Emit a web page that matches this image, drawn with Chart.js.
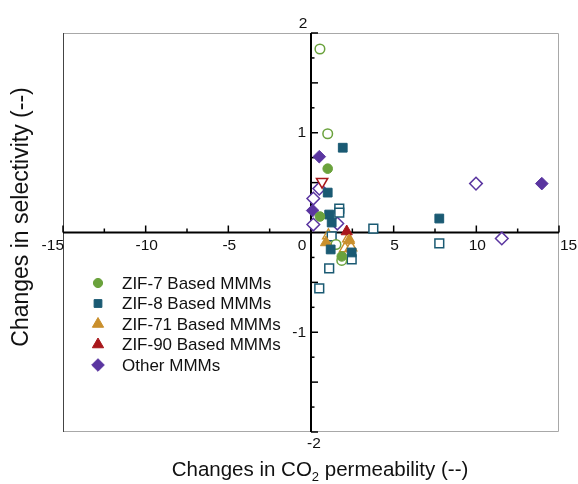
<!DOCTYPE html>
<html><head><meta charset="utf-8">
<script src="https://cdn.jsdelivr.net/npm/chart.js@4.4.1/dist/chart.umd.min.js"></script>
<style>html,body{margin:0;padding:0;background:#fff;}#wrap{width:578px;height:484px;}</style>
</head><body><div id="wrap"><canvas id="c" width="578" height="484"></canvas></div>
<script>
// ---- data (x: change in CO2 permeability, y: change in selectivity) ----
const seriesNames = ['ZIF-7 Based MMMs','ZIF-8 Based MMMs','ZIF-71 Based MMMs','ZIF-90 Based MMMs','Other MMMs'];
const zif7Filled = [[1.01,0.64],[0.54,0.16],[1.86,-0.24]];
const zif7Open   = [[0.54,1.84],[1.01,0.99],[1.51,-0.12],[1.86,-0.28]];
const zif8Filled = [[1.92,0.85],[1.01,0.40],[1.10,0.18],[1.25,0.10],[1.19,-0.17],[7.76,0.14],[2.46,-0.20]];
const zif8Open   = [[1.71,0.24],[1.71,0.20],[1.25,-0.04],[1.10,-0.36],[0.50,-0.56],[3.77,0.04],[7.76,-0.11],[2.46,-0.27]];
const zif71Filled = [[0.91,-0.10],[2.30,-0.08]];
const zif71Open   = [[1.05,-0.03],[1.35,-0.10],[2.06,-0.16],[2.42,-0.15],[2.26,-0.06]];
const zif90Filled = [[2.16,0.01]];
const zif90Open   = [[0.67,0.51]];
const otherFilled = [[0.50,0.76],[0.10,0.22],[13.96,0.49]];
const otherOpen   = [[0.50,0.44],[0.14,0.34],[0.14,0.08],[1.59,0.09],[9.98,0.49],[11.54,-0.06]];
const xTickValues = [-15,-10,-5,5,10,15];
const xTickLabels = ['-15','-10','-5','5','10','15'];
const yTickValues = [2,1,-1,-2];
const yTickLabels = ['2','1','-1','-2'];
const xTitle = ['Changes in CO', '2', ' permeability (--)'];
const yTitle = 'Changes in selectivity (--)';

const colors = ['#6aa23c','#1a5a73','#c98f2c','#a8171b','#5a35a0'];
const styles = ['circle','rect','triangle','triangle','rectRot'];
const radii  = [4.8, 6.2, 6.5, 6.5, 6.3];

function pts(a){ return a.map(p=>({x:p[0],y:p[1]})); }
const filledSets = [zif7Filled,zif8Filled,zif71Filled,zif90Filled,otherFilled];
const openSets = [zif7Open,zif8Open,zif71Open,zif90Open,otherOpen];
const datasets = [];
for (let i=0;i<5;i++){
  datasets.push({label:seriesNames[i]+' open', data:pts(openSets[i]), pointStyle:styles[i], pointRadius:radii[i],
    pointRotation: i===3?180:0, backgroundColor:'#ffffff', borderColor:colors[i], pointBorderWidth:1.5, showLine:false, order:2});
}
for (let i=0;i<5;i++){
  datasets.push({label:seriesNames[i], data:pts(filledSets[i]), pointStyle:styles[i], pointRadius:radii[i],
    backgroundColor:colors[i], borderColor:colors[i], pointBorderWidth:1, showLine:false, order:1});
}

const FONT = 'Arial, "Liberation Sans", sans-serif';
const axesPlugin = {
  id:'crossAxes',
  beforeDatasetsDraw(chart){
    const {ctx, chartArea:a, scales:{x,y}} = chart;
    ctx.save();
    // frame
    ctx.lineWidth = 1;
    ctx.strokeStyle = '#a8a8a8';
    ctx.beginPath();
    ctx.moveTo(a.left, a.top+0.5); ctx.lineTo(a.right-0.5, a.top+0.5);
    ctx.lineTo(a.right-0.5, a.bottom-0.5); ctx.lineTo(a.left, a.bottom-0.5);
    ctx.stroke();
    ctx.strokeStyle = '#444';
    ctx.beginPath(); ctx.moveTo(a.left+0.5, a.top); ctx.lineTo(a.left+0.5, a.bottom); ctx.stroke();
    const x0 = x.getPixelForValue(0), y0 = y.getPixelForValue(0);
    // axes lines
    ctx.strokeStyle = '#000'; ctx.lineWidth = 2;
    ctx.beginPath(); ctx.moveTo(a.left, y0); ctx.lineTo(a.right, y0); ctx.stroke();
    ctx.beginPath(); ctx.moveTo(x0, a.top); ctx.lineTo(x0, a.bottom); ctx.stroke();
    // x ticks (upward)
    ctx.lineWidth = 1.5;
    for (let v=-15; v<=15; v+=2.5){
      if (v===0) continue;
      const px = x.getPixelForValue(v);
      const len = (v%5===0)?7:4;
      ctx.beginPath(); ctx.moveTo(px, y0); ctx.lineTo(px, y0-len); ctx.stroke();
    }
    // y ticks (rightward)
    for (let v=-2; v<=2; v+=0.25){
      if (Math.abs(v)<1e-9) continue;
      const py = y.getPixelForValue(v);
      const len = (Math.abs(v*2-Math.round(v*2))<1e-9)?7:3.5;
      ctx.beginPath(); ctx.moveTo(x0, py); ctx.lineTo(x0+len, py); ctx.stroke();
    }
    // tick labels
    ctx.fillStyle = '#111';
    ctx.font = '15.5px ' + FONT;
    ctx.textBaseline = 'middle';
    xTickValues.forEach((v,i)=>{
      const px = x.getPixelForValue(v);
      if (v===xTickValues[0]) { ctx.textAlign='right'; ctx.fillText(xTickLabels[i], px+1, y0+13); }
      else if (v===xTickValues[xTickValues.length-1]) { ctx.textAlign='left'; ctx.fillText(xTickLabels[i], px+1, y0+13); }
      else { ctx.textAlign='center'; ctx.fillText(xTickLabels[i], px+1, y0+13); }
    });
    ctx.textAlign='center';
    ctx.fillText('0', x0-9, y0+13);
    yTickValues.forEach((v,i)=>{
      const py = y.getPixelForValue(v);
      if (v===2) { ctx.textAlign='center'; ctx.fillText(yTickLabels[i], x0-8, a.top-9); }
      else if (v===-2) { ctx.textAlign='center'; ctx.fillText(yTickLabels[i], x0+3, a.bottom+12); }
      else { ctx.textAlign='right'; ctx.fillText(yTickLabels[i], x0-5, py); }
    });
    ctx.restore();
  },
  afterDatasetsDraw(chart){
    const {ctx} = chart;
    ctx.save();
    // legend
    ctx.font = '17px ' + FONT;
    ctx.textBaseline='middle'; ctx.textAlign='left'; ctx.fillStyle='#111';
    const legR = [4.6, 5.5, 6.5, 6.5, 6.3];
    for (let i=0;i<5;i++){
      const cy = 283 + i*20.5;
      ctx.fillStyle = colors[i]; ctx.strokeStyle = colors[i]; ctx.lineWidth = 1;
      Chart.helpers.drawPoint(ctx, {pointStyle:styles[i], radius:legR[i], rotation:0, borderWidth:1}, 98, cy);
      ctx.fillStyle='#111';
      ctx.fillText(seriesNames[i], 122, cy+1);
    }
    // x title
    ctx.font = '20.5px ' + FONT;
    const w1 = ctx.measureText(xTitle[0]).width;
    ctx.font = '13px ' + FONT;
    const w2 = ctx.measureText(xTitle[1]).width;
    ctx.font = '20.5px ' + FONT;
    const w3 = ctx.measureText(xTitle[2]).width;
    let sx = 320 - (w1+w2+w3)/2;
    ctx.textBaseline='alphabetic';
    ctx.fillText(xTitle[0], sx, 476);
    ctx.font = '13px ' + FONT; ctx.fillText(xTitle[1], sx+w1, 481);
    ctx.font = '20.5px ' + FONT; ctx.fillText(xTitle[2], sx+w1+w2, 476);
    // y title
    ctx.translate(22, 217); ctx.rotate(-Math.PI/2);
    ctx.font = '23px ' + FONT; ctx.textAlign='center'; ctx.textBaseline='middle';
    ctx.fillText(yTitle, 0, 0);
    ctx.restore();
  }
};

new Chart(document.getElementById('c'), {
  type:'scatter',
  data:{datasets},
  options:{
    responsive:false, animation:false, devicePixelRatio:1,
    layout:{padding:{left:63,right:19,top:33,bottom:52}},
    plugins:{legend:{display:false}, tooltip:{enabled:false}},
    scales:{
      x:{type:'linear',min:-15,max:15,display:false},
      y:{type:'linear',min:-2,max:2,display:false}
    }
  },
  plugins:[axesPlugin]
});
</script></body></html>
